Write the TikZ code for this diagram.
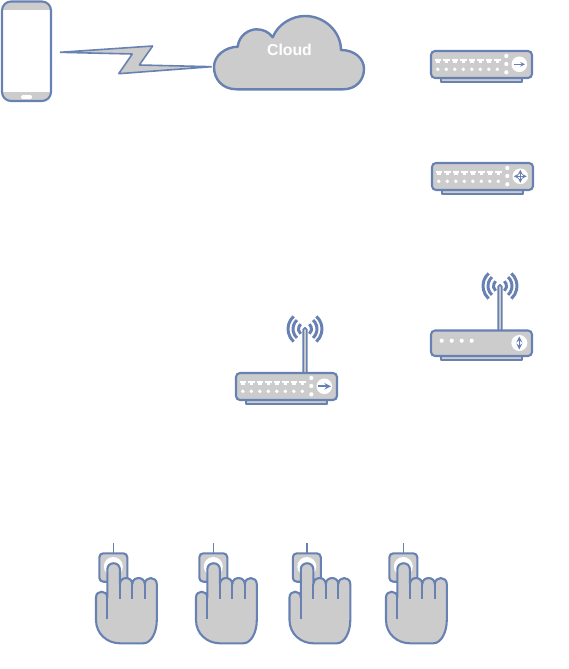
\documentclass[tikz,border=0pt]{standalone}
\usepackage{fontspec}
\setmainfont{Liberation Sans}
\usepackage{xcolor}
\usetikzlibrary{arrows, calc}
\definecolor{hwblue}{HTML}{6881B3}
\definecolor{hwgray}{HTML}{CCCCCC}
\tikzset{
  hwshape/.style={draw=hwblue, fill=hwgray, line width=2.1pt, line join=round},
  hwline/.style={draw=hwblue, line width=2.1pt},
  hwwave/.style={draw=hwblue, line width=3pt},
  hwicon/.style={draw=hwblue, line width=1.2pt, stealth-stealth},
  % front of a switch: two rows of ports and the status dots
  switchbody/.pic={
    \draw[hwshape, line width=1.6pt] (10,27) rectangle (91,31);
    \draw[hwshape, rounded corners=4pt] (0,0) rectangle (101,27);
    \foreach \i in {0,...,7} {
      \fill[white] ($(3.6,7.6)+(8.5*\i,0)$) rectangle +(6.6,2.8);
      \fill[white] ($(5.2,10)+(8.5*\i,0)$) rectangle +(3.4,1.6);
      \fill[white] ($(6.8,18.3)+(8.5*\i,0)$) circle (1.9pt);
    }
    \foreach \y in {5,13,21.3}
      \fill[white] (75.3,\y) circle (2.1pt);
    \fill[white] (88.3,13.3) circle (7.8pt);
  },
  % three arcs each side of the mast
  mast/.pic={
    \draw[draw=hwblue, fill=hwgray, line width=1.6pt, rounded corners=1.5pt] (-1.8,45) -- (-1.8,0) -- (1.8,0) -- (1.8,45);
    \foreach \r in {6.5,12,17} {
      \draw[hwwave] (0,1) ++(48:\r pt) arc[start angle=48, end angle=-48, radius=\r pt];
      \draw[hwwave] (0,1) ++(132:\r pt) arc[start angle=132, end angle=228, radius=\r pt];
    }
  },
  pressbutton/.pic={
    \draw[draw=hwblue, line width=1.5pt] (0,3.3) -- (0,13.3);
    \draw[hwshape, rounded corners=4pt] (-14,13.3) rectangle (14,41.7);
    \fill[white] (0,26.5) circle (9.5pt);
    % hand, index finger first
    \draw[hwshape] (-6,57.5) -- (-6,29.5) .. controls (-6,21.2) and (6.6,21.2) .. (6.6,29.5) -- (6.6,44.2)
      .. controls (6.6,36) and (19,36) .. (19,44.2)
      .. controls (19,36) and (31.5,36) .. (31.5,44.2)
      .. controls (31.5,36) and (43.5,36) .. (43.5,44.2)
      -- (43.5,80) .. controls (43.5,92) and (38,103.3) .. (30,103.3)
      -- (6.7,103.3) .. controls (-6,103.3) and (-17.3,94) .. (-17.3,80)
      -- (-17.3,57.5) .. controls (-17.3,49.8) and (-6,49.8) .. (-6,57.5) -- cycle;
    \draw[hwline] (-6,57) -- (-6,78.5);
    \draw[hwline] (6.6,44) -- (6.6,58.5);
    \draw[hwline] (19,44) -- (19,58.5);
    \draw[hwline] (31.5,44) -- (31.5,58.5);
  }
}

\begin{document}
\begin{tikzpicture}[x=1pt, y=-1pt]
  \useasboundingbox (0,0) rectangle (568,669);

  % Phone
  \fill[white, rounded corners=9pt] (2,1.5) rectangle (51,101);
  \begin{scope}
    \clip[rounded corners=9pt] (2,1.5) rectangle (51,101);
    \fill[hwgray] (2,1.5) rectangle (51,10);
    \fill[hwgray] (2,92) rectangle (51,101);
  \end{scope}
  \draw[hwline, rounded corners=9pt] (2,1.5) rectangle (51,101);
  \fill[white, rounded corners=1.5pt] (21,95) rectangle (32,99);

  % Radio link
  \coordinate (LinkA) at (60,52.3);
  \coordinate (LinkB) at (211.7,66.7);
  \draw[hwshape, line width=1.6pt, line join=bevel] (LinkA) -- (152.7,46) -- (139.3,65) -- (LinkB) -- (118.7,73.7) -- (132.3,54) -- cycle;

  % Cloud
  \draw[hwshape, line width=2.4pt] (236.7,89.3) .. controls (222,89.3) and (214,79) .. (214,67)
    .. controls (214,55) and (226,47) .. (237.7,46.7)
    .. controls (239,35) and (249,29.3) .. (256.7,29.3)
    .. controls (263,29.3) and (269,32) .. (272.7,37.3)
    .. controls (278,24) and (292,16) .. (305,16)
    .. controls (325,16) and (341,32) .. (341,50)
    .. controls (354,50) and (364,58) .. (364,69)
    .. controls (364,81) and (355,89.3) .. (343.3,89.3) -- cycle;
  \node[text=white, font=\fontsize{15.8}{18}\selectfont\bfseries, inner sep=0pt] (CloudLabel) at (289.5,50) {Cloud};

  % Top switch
  \pic at (431,51) {switchbody};
  \draw[draw=hwblue, line width=1.1pt, -stealth] (513.5,64.3) -- (525,64.3);

  % Second switch
  \pic at (432,163) {switchbody};
  \coordinate (HubC) at (520.3,176.3);
  \draw[hwicon] ($(HubC)+(-6.5,0)$) -- ($(HubC)+(6.5,0)$);
  \draw[hwicon] ($(HubC)+(0,-6.5)$) -- ($(HubC)+(0,6.5)$);

  % Access point on the right
  \pic at (500,285) {mast};
  \draw[hwshape, line width=1.6pt] (441,356) rectangle (522,360);
  \draw[hwshape, rounded corners=4pt] (431,330.5) rectangle (532,356);
  \foreach \x in {441.7,451.7,461.7,471.7}
    \fill[white] (\x,340.7) circle (2.1pt);
  \fill[white] (519.3,343) circle (8pt);
  \draw[hwicon, line width=1.6pt] (519.3,336.5) -- (519.3,349.5);

  % Access point in the middle
  \pic at (305,328) {mast};
  \pic at (236,373) {switchbody};
  \draw[draw=hwblue, line width=1.9pt, -stealth] (318,386.3) -- (331,386.3);

  % Hands
  \foreach \x in {113.3,213.3,306.8,403.3}
    \pic at (\x,540) {pressbutton};
\end{tikzpicture}
\end{document}
